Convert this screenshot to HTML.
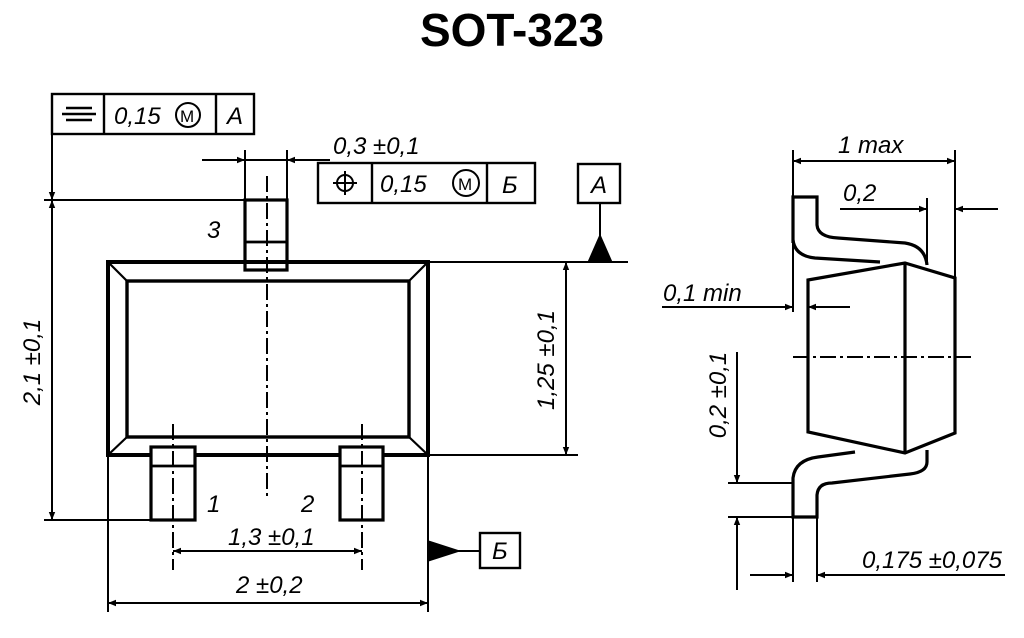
<!DOCTYPE html>
<html><head><meta charset="utf-8"><style>
html,body{margin:0;padding:0;background:#fff;width:1024px;height:638px;overflow:hidden}
svg{display:block}
text{font-family:"Liberation Sans",sans-serif;font-style:italic;fill:#000}
</style></head><body>
<svg width="1024" height="638" viewBox="0 0 1024 638" xmlns="http://www.w3.org/2000/svg">
<defs>
<marker id="ar" viewBox="0 0 10 10" refX="10" refY="5" markerWidth="14" markerHeight="8" markerUnits="userSpaceOnUse" orient="auto-start-reverse"><path d="M0,1 L10,5 L0,9 z" fill="#000"/></marker>
</defs>
<text x="512" y="46" text-anchor="middle" style="font-style:normal;font-weight:bold;font-size:46px">SOT-323</text>
<g stroke="#000" fill="none" stroke-width="2">
<rect x="52" y="94" width="202" height="40" stroke-width="2.4"/>
<line x1="104" y1="94" x2="104" y2="134" stroke-width="2.4"/><line x1="216" y1="94" x2="216" y2="134" stroke-width="2.4"/>
<line x1="66" y1="108" x2="92" y2="108" stroke-width="2.5"/><line x1="62" y1="114" x2="96" y2="114" stroke-width="2.5"/><line x1="66" y1="120" x2="92" y2="120" stroke-width="2.5"/>
<circle cx="188" cy="115" r="12" stroke-width="2"/>
<line x1="52" y1="134" x2="52" y2="200" marker-end="url(#ar)"/>
<line x1="52" y1="200" x2="52" y2="520" marker-start="url(#ar)" marker-end="url(#ar)"/>
<line x1="44" y1="200" x2="288" y2="200"/>
<line x1="44" y1="520" x2="160" y2="520"/>
<line x1="245" y1="150" x2="245" y2="200"/><line x1="287" y1="150" x2="287" y2="200"/>
<line x1="202" y1="160" x2="245" y2="160" marker-end="url(#ar)"/>
<line x1="330" y1="160" x2="287" y2="160" marker-end="url(#ar)"/>
<line x1="287" y1="160" x2="245" y2="160"/>
<rect x="318" y="163" width="217" height="40" stroke-width="2.4"/>
<line x1="372" y1="163" x2="372" y2="203" stroke-width="2.4"/><line x1="487" y1="163" x2="487" y2="203" stroke-width="2.4"/>
<circle cx="345" cy="183" r="8" stroke-width="2"/><line x1="333" y1="183" x2="357" y2="183" stroke-width="2"/><line x1="345" y1="171" x2="345" y2="195" stroke-width="2"/>
<circle cx="466" cy="183" r="13" stroke-width="2"/>
<rect x="245" y="200" width="42" height="70" stroke-width="3.2"/><line x1="245" y1="242" x2="287" y2="242" stroke-width="2.8"/>
<rect x="108" y="262" width="320" height="193" stroke-width="4"/>
<rect x="127" y="281" width="282" height="156" stroke-width="3.4"/>
<line x1="108" y1="262" x2="127" y2="281" stroke-width="2.2"/><line x1="428" y1="262" x2="409" y2="281" stroke-width="2.2"/>
<line x1="108" y1="455" x2="127" y2="437" stroke-width="2.2"/><line x1="428" y1="455" x2="409" y2="437" stroke-width="2.2"/>
<rect x="151" y="447" width="44" height="73" stroke-width="3.2" fill="#fff"/><line x1="151" y1="466" x2="195" y2="466" stroke-width="2.8"/>
<rect x="340" y="447" width="43" height="73" stroke-width="3.2" fill="#fff"/><line x1="340" y1="466" x2="383" y2="466" stroke-width="2.8"/>
<line x1="267" y1="176" x2="267" y2="497" stroke-dasharray="16,4,3,4"/>
<line x1="173" y1="424" x2="173" y2="570" stroke-dasharray="16,4,3,4"/>
<line x1="362" y1="424" x2="362" y2="570"  stroke-dasharray="16,4,3,4"/>
<line x1="173" y1="551" x2="362" y2="551" marker-start="url(#ar)" marker-end="url(#ar)"/>
<line x1="108" y1="455" x2="108" y2="612"/><line x1="428" y1="455" x2="428" y2="612"/>
<line x1="108" y1="603" x2="428" y2="603" marker-start="url(#ar)" marker-end="url(#ar)"/>
<path d="M430,542 L458,551 L430,560 z" fill="#000"/>
<line x1="458" y1="551" x2="480" y2="551"/>
<rect x="480" y="533" width="40" height="35" stroke-width="2.4"/>
<rect x="578" y="164" width="42" height="39" stroke-width="2.4"/>
<line x1="600" y1="203" x2="600" y2="240"/>
<path d="M589,261 L600,236 L611,261 z" fill="#000"/>
<line x1="428" y1="262" x2="628" y2="262"/>
<line x1="428" y1="455" x2="578" y2="455"/>
<line x1="566" y1="262" x2="566" y2="455" marker-start="url(#ar)" marker-end="url(#ar)"/>
<line x1="793" y1="150" x2="793" y2="312"/><line x1="955" y1="150" x2="955" y2="278"/>
<line x1="793" y1="161" x2="955" y2="161" marker-start="url(#ar)" marker-end="url(#ar)"/>
<line x1="927" y1="198" x2="927" y2="265"/>
<line x1="840" y1="209" x2="927" y2="209" marker-end="url(#ar)"/>
<line x1="998" y1="209" x2="955" y2="209" marker-end="url(#ar)"/>
<path d="M793,243 L793,197 L817,197 L817,225 Q818,237 838,238 L905,243 Q925,246 927,265" stroke-width="3.2"/>
<path d="M793,240 Q795,256 815,258 L880,262" stroke-width="3.2"/>
<path d="M855,452 L818,457 Q795,460 793,478 L793,517 L817,517 L817,495 Q818,483 832,483 L910,474 Q927,472 927,462 L927,450" stroke-width="3.2"/>
<path d="M808,280 L905,263 L955,278 L955,433 L905,453 L808,432 z" stroke-width="3.2"/>
<line x1="905" y1="263" x2="905" y2="453" stroke-width="3.2"/>
<line x1="793" y1="357" x2="972" y2="357" stroke-dasharray="16,4,3,4"/>
<line x1="662" y1="307" x2="793" y2="307" marker-end="url(#ar)"/>
<line x1="850" y1="307" x2="808" y2="307" marker-end="url(#ar)"/>
<line x1="728" y1="483" x2="793" y2="483"/><line x1="728" y1="517" x2="793" y2="517"/>
<line x1="737" y1="352" x2="737" y2="483" marker-end="url(#ar)"/>
<line x1="737" y1="590" x2="737" y2="517" marker-end="url(#ar)"/>
<line x1="793" y1="517" x2="793" y2="582"/><line x1="817" y1="517" x2="817" y2="582"/>
<line x1="750" y1="575" x2="793" y2="575" marker-end="url(#ar)"/>
<line x1="1005" y1="575" x2="817" y2="575" marker-end="url(#ar)"/>
</g>
<g style="font-size:24px">
<text x="114" y="124">0,15</text>
<text x="180" y="122" style="font-size:17px;font-style:normal">M</text>
<text x="227" y="124">A</text>
<text x="333" y="154">0,3 ±0,1</text>
<text x="380" y="192">0,15</text>
<text x="458" y="190" style="font-size:17px;font-style:normal">M</text>
<text x="502" y="193">Б</text>
<text x="591" y="193">A</text>
<text x="207" y="238">3</text>
<text x="207" y="512">1</text>
<text x="301" y="512">2</text>
<text x="228" y="545">1,3 ±0,1</text>
<text x="236" y="593">2 ±0,2</text>
<text x="492" y="559">Б</text>
<text transform="translate(40,362) rotate(-90)" text-anchor="middle">2,1 ±0,1</text>
<text transform="translate(554,360) rotate(-90)" text-anchor="middle">1,25 ±0,1</text>
<text x="838" y="153">1 max</text>
<text x="843" y="201">0,2</text>
<text x="663" y="301">0,1 min</text>
<text transform="translate(726,395) rotate(-90)" text-anchor="middle">0,2 ±0,1</text>
<text x="862" y="568">0,175 ±0,075</text>
</g>
</svg>
</body></html>
